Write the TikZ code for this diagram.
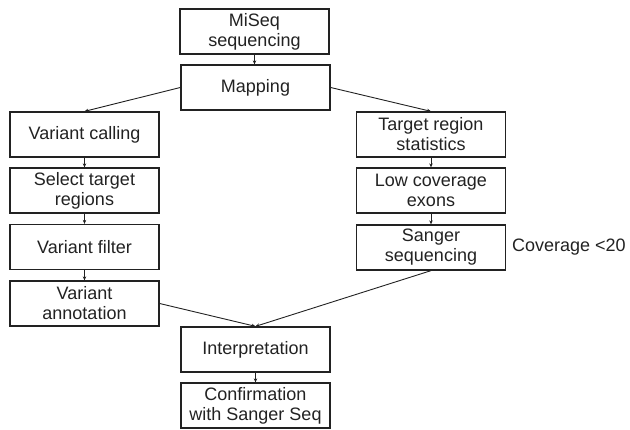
\documentclass[tikz,border=0pt]{standalone}
\usepackage{fontspec}
\setmainfont{Liberation Sans}
\usetikzlibrary{arrows.meta}
\definecolor{ink}{HTML}{222222}
\begin{document}
\begin{tikzpicture}[x=1pt,y=-1pt,
  box/.style={draw=ink,line width=1.3pt,minimum width=149pt,minimum height=45pt,
    inner sep=0pt,align=center,text=ink,font=\fontsize{18}{20}\selectfont},
  conn/.style={draw=ink,line width=0.9pt,-{Stealth[length=4pt,width=3.5pt]}},
  lbl/.style={text=ink,font=\fontsize{18}{20}\selectfont,anchor=west,inner sep=0pt}]
\useasboundingbox (0,0) rectangle (630,430);
\node[box] (miseq) at (254.5,31.5) {MiSeq\\sequencing};
\node[box] (map) at (255.5,87.5) {Mapping};
\node[box] (vcall) at (84.5,134.5) {Variant calling};
\node[box] (sel) at (84.5,190.5) {Select target\\regions};
\node[box] (vfilt) at (84.5,247) {Variant filter};
\node[box] (vann) at (84.5,303.5) {Variant\\annotation};
\node[box] (trs) at (431,134.5) {Target region\\statistics};
\node[box] (low) at (431,190.5) {Low coverage\\exons};
\node[box] (sang) at (431,247.5) {Sanger\\sequencing};
\node[lbl] (cov) at (512,247) {Coverage <20};
\node[box] (interp) at (255.5,349.5) {Interpretation};
\node[box] (conf) at (255.5,405.5) {Confirmation\\with Sanger Seq};
\draw[conn] (miseq.south) -- (miseq.south |- map.north);
\draw[conn] (map.west) -- (vcall.north);
\draw[conn] (map.east) -- (trs.north);
\draw[conn] (vcall) -- (sel);
\draw[conn] (sel) -- (vfilt);
\draw[conn] (vfilt) -- (vann);
\draw[conn] (trs) -- (low);
\draw[conn] (low) -- (sang);
\draw[conn] (vann.east) -- (interp.north);
\draw[conn] (sang.south) -- (interp.north);
\draw[conn] (interp) -- (conf);
\end{tikzpicture}
\end{document}
